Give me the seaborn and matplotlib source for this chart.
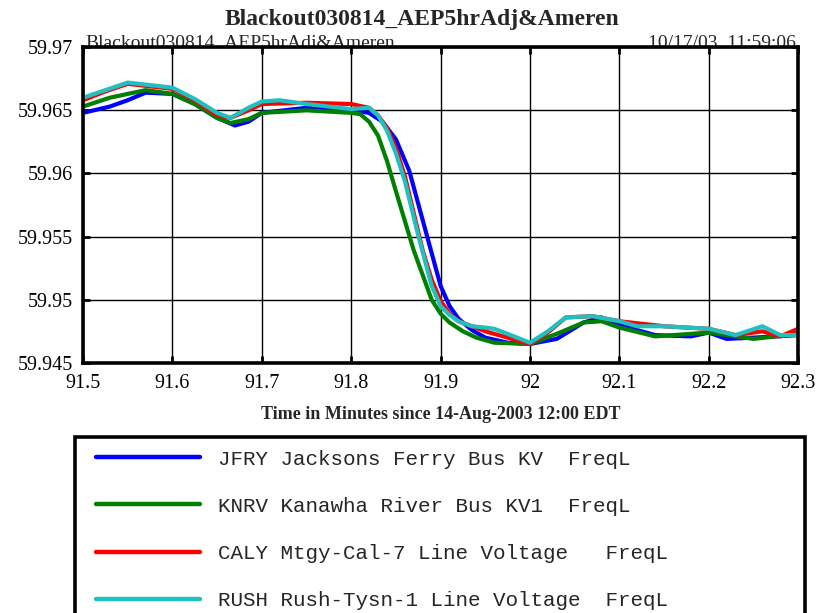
import matplotlib
matplotlib.use("Agg")
import matplotlib.pyplot as plt
import seaborn as sns
import numpy as np
import pandas as pd

# Frequency traces (Hz) vs. time in minutes since 14-Aug-2003 12:00 EDT
jfry_t = [91.5, 91.53, 91.55, 91.57, 91.6, 91.625, 91.65, 91.67, 91.685, 91.7, 91.75,
          91.8, 91.82, 91.835, 91.85, 91.865, 91.88, 91.89, 91.9, 91.91, 91.92, 91.935,
          91.95, 91.975, 92.0, 92.03, 92.06, 92.08, 92.1, 92.14, 92.18, 92.2, 92.22,
          92.25, 92.3]
jfry_f = [59.9648, 59.9653, 59.9658, 59.9664, 59.9663, 59.9655, 59.9644, 59.9638, 59.9641,
          59.9648, 59.9652, 59.9650, 59.9648, 59.9641, 59.9627, 59.9602, 59.9563, 59.9537,
          59.9511, 59.9495, 59.9485, 59.9476, 59.9470, 59.9466, 59.9465, 59.9469, 59.9482,
          59.9486, 59.9480, 59.9472, 59.9471, 59.9474, 59.9469, 59.9470, 59.9472]

knrv_t = [91.5, 91.53, 91.55, 91.57, 91.6, 91.625, 91.65, 91.665, 91.685, 91.7, 91.75,
          91.8, 91.81, 91.82, 91.83, 91.84, 91.85, 91.87, 91.89, 91.9, 91.91, 91.925,
          91.94, 91.96, 92.0, 92.03, 92.06, 92.08, 92.1, 92.14, 92.2, 92.25, 92.3]
knrv_f = [59.9653, 59.9660, 59.9663, 59.9666, 59.9663, 59.9655, 59.9644, 59.9640, 59.9643,
          59.9648, 59.9650, 59.9648, 59.9647, 59.9641, 59.9630, 59.9610, 59.9586, 59.9539,
          59.9500, 59.9489, 59.9482, 59.9475, 59.9470, 59.9466, 59.9465, 59.9473, 59.9482,
          59.9483, 59.9478, 59.9471, 59.9474, 59.9469, 59.9473]

caly_t = [91.5, 91.525, 91.55, 91.6, 91.625, 91.65, 91.665, 91.685, 91.7, 91.75, 91.8,
          91.82, 91.83, 91.84, 91.85, 91.86, 91.88, 91.89, 91.9, 91.91, 91.92, 91.95,
          92.0, 92.02, 92.04, 92.07, 92.1, 92.15, 92.2, 92.23, 92.26, 92.28, 92.3]
caly_f = [59.9658, 59.9665, 59.9671, 59.9667, 59.9658, 59.9646, 59.9644, 59.9650, 59.9655,
          59.9656, 59.9655, 59.9652, 59.9646, 59.9636, 59.9620, 59.9598, 59.9539, 59.9516,
          59.9499, 59.9489, 59.9483, 59.9475, 59.9465, 59.9474, 59.9486, 59.9487, 59.9483,
          59.9479, 59.9477, 59.9472, 59.9475, 59.9471, 59.9477]

rush_t = [91.5, 91.525, 91.55, 91.6, 91.625, 91.65, 91.665, 91.685, 91.7, 91.72, 91.75,
          91.8, 91.82, 91.83, 91.84, 91.85, 91.86, 91.875, 91.89, 91.9, 91.91, 91.92,
          91.935, 91.95, 91.96, 91.975, 92.0, 92.02, 92.04, 92.07, 92.1, 92.12, 92.15,
          92.2, 92.23, 92.26, 92.28, 92.3]
rush_f = [59.9660, 59.9666, 59.9672, 59.9668, 59.9659, 59.9648, 59.9644, 59.9652, 59.9657,
          59.9658, 59.9655, 59.9651, 59.9652, 59.9646, 59.9634, 59.9616, 59.9594, 59.9551,
          59.9511, 59.9495, 59.9488, 59.9483, 59.9479, 59.9478, 59.9477, 59.9473, 59.9466,
          59.9475, 59.9486, 59.9487, 59.9483, 59.9479, 59.9479, 59.9477, 59.9472, 59.9479,
          59.9472, 59.9472]

labels = ["JFRY Jacksons Ferry Bus KV  FreqL",
          "KNRV Kanawha River Bus KV1  FreqL",
          "CALY Mtgy-Cal-7 Line Voltage   FreqL",
          "RUSH Rush-Tysn-1 Line Voltage  FreqL"]
colors = ["#0000ff", "#008000", "#ff0000", "#20c0c0"]

x_ticks = [91.5, 91.6, 91.7, 91.8, 91.9, 92.0, 92.1, 92.2, 92.3]
x_ticklabels = ["91.5", "91.6", "91.7", "91.8", "91.9", "92", "92.1", "92.2", "92.3"]
y_ticks = [59.945, 59.95, 59.955, 59.96, 59.965, 59.97]
y_ticklabels = ["59.945", "59.95", "59.955", "59.96", "59.965", "59.97"]

frames = []
for lab, t, f in zip(labels, [jfry_t, knrv_t, caly_t, rush_t],
                     [jfry_f, knrv_f, caly_f, rush_f]):
    frames.append(pd.DataFrame({"t": t, "f": f, "series": lab}))
df = pd.concat(frames, ignore_index=True)

sns.set_theme(style="white")
plt.rcParams["font.family"] = ["Liberation Serif", "DejaVu Serif"]

fig = plt.figure(figsize=(8.22, 6.13), dpi=100)
ax = fig.add_axes([0.101, 0.408, 0.870, 0.515])

sns.lineplot(data=df, x="t", y="f", hue="series", hue_order=labels,
             palette=colors, linewidth=3.0, sort=False, estimator=None,
             ax=ax, legend=False)
for line in ax.get_lines():
    line.set_solid_joinstyle("round")
    line.set_solid_capstyle("round")

ax.set_xlim(91.5, 92.3)
ax.set_ylim(59.945, 59.97)
ax.set_xticks(x_ticks)
ax.set_xticklabels(x_ticklabels)
ax.set_yticks(y_ticks)
ax.set_yticklabels(y_ticklabels)
ax.grid(True, color="black", linewidth=1.0)
ax.set_axisbelow(True)
ax.tick_params(axis="both", which="major", direction="in", length=5, width=2,
               colors="black", labelsize=14.5, top=True, bottom=True,
               left=True, right=True)
ax.tick_params(axis="x", pad=8)
ax.tick_params(axis="y", pad=7)
for sp in ax.spines.values():
    sp.set_visible(True)
    sp.set_color("black")
    sp.set_linewidth(2.6)

ax.set_xlabel("Time in Minutes since 14-Aug-2003 12:00 EDT", fontsize=13,
              fontweight="bold", labelpad=9)
ax.set_ylabel("")

fig.text(0.513, 0.968, "Blackout030814_AEP5hrAdj&Ameren", ha="center",
         va="center", fontsize=17, fontweight="bold")
fig.text(0.104, 0.921, "Blackout030814_AEP5hrAdj&Ameren", ha="left",
         va="baseline", fontsize=14, zorder=-1)
fig.text(0.968, 0.921, "10/17/03  11:59:06", ha="right", va="baseline",
         fontsize=14, zorder=-1)

handles = ax.get_lines()[:4]
leg = fig.legend(handles, labels, loc="upper left",
                 bbox_to_anchor=(0.091, 0.0, 0.888, 0.287),
                 mode="expand", frameon=True, fancybox=False, framealpha=1.0,
                 prop={"family": "Liberation Mono", "size": 15},
                 handlelength=5.1, handletextpad=1.18, labelspacing=1.35,
                 borderpad=0.6, borderaxespad=0.0)
leg.get_frame().set_edgecolor("black")
leg.get_frame().set_linewidth(2.6)
# indent the legend swatches a little from the frame's left edge
for line in leg.get_lines():
    line.set_linewidth(3.2)
    xd = np.asarray(line.get_xdata(), dtype=float)
    lo, hi = xd.min(), xd.max()
    span = hi - lo
    line.set_xdata(lo + 6.5 + (xd - lo) * (span - 2.0) / span)

fig.savefig("out.png", dpi=100)
